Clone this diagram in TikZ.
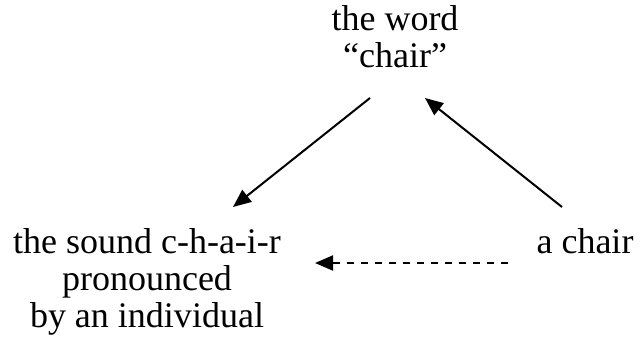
\documentclass[tikz,border=0pt]{standalone}
\usepackage{fontspec}
\setmainfont{Liberation Serif}
\usetikzlibrary{arrows.meta}
\begin{document}
\begin{tikzpicture}[x=1bp,y=-1bp,
  label text/.style={align=center,inner sep=0pt,anchor=base,
    font=\fontsize{36bp}{37bp}\selectfont},
  link/.style={line width=2bp,-{Triangle[length=18bp,width=15bp]}},
  weaklink/.style={link,dash pattern=on 7bp off 7bp}]
  \useasboundingbox (0,0) rectangle (640,347);

  % the three corners of the triangle (anchored at the last line's baseline)
  \node[label text] (word)  at (395,67)  {the word\\``chair''};
  \node[label text] (sound) at (147,327) {the sound c-h-a-i-r\\pronounced\\by an individual};
  \node[label text] (thing) at (585,253) {a chair};

  % connector end points
  \coordinate (wordL)  at (370,98);
  \coordinate (wordR)  at (425,98);
  \coordinate (soundT) at (233,207);
  \coordinate (soundR) at (315,263);
  \coordinate (thingT) at (562,207);
  \coordinate (thingL) at (508,263);

  \draw[link] (wordL) -- (soundT);
  \draw[link] (thingT) -- (wordR);
  \draw[weaklink] (thingL) -- (soundR);
\end{tikzpicture}
\end{document}
